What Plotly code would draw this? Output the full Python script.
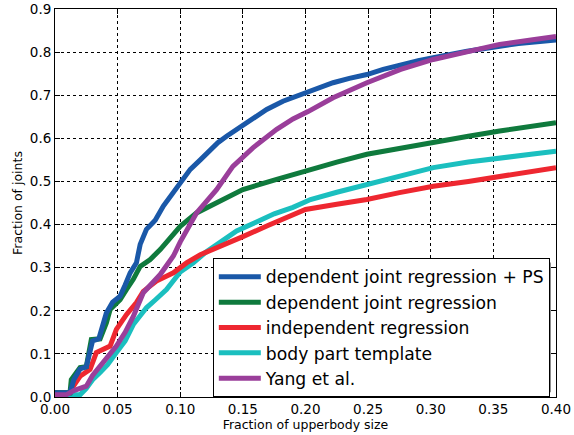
import plotly.graph_objects as go

names = ["dependent joint regression + PS", "dependent joint regression",
         "independent regression", "body part template", "Yang et al."]
colors = ["#1a58a8", "#0f7a3d", "#ee2730", "#1bbfbf", "#9a3e9a"]

blue_x = [0, 0.012, 0.015, 0.02, 0.025, 0.03, 0.035, 0.041, 0.046, 0.052, 0.056, 0.06, 0.065, 0.068, 0.073, 0.08, 0.0865, 0.093, 0.0985, 0.108, 0.116, 0.124, 0.13, 0.137, 0.145, 0.153, 0.16, 0.169, 0.182, 0.195, 0.21, 0.222, 0.235, 0.249, 0.262, 0.276, 0.29, 0.302, 0.315, 0.329, 0.342, 0.355, 0.37, 0.385, 0.4]
blue_y = [0.01, 0.01, 0.04, 0.065, 0.07, 0.13, 0.135, 0.195, 0.22, 0.234, 0.26, 0.288, 0.311, 0.354, 0.389, 0.41, 0.443, 0.47, 0.489, 0.528, 0.55, 0.574, 0.59, 0.605, 0.62, 0.636, 0.65, 0.667, 0.686, 0.7, 0.716, 0.729, 0.739, 0.748, 0.76, 0.771, 0.78, 0.787, 0.795, 0.802, 0.808, 0.814, 0.82, 0.824, 0.828]

green_x = [0, 0.012, 0.013, 0.02, 0.025, 0.029, 0.036, 0.041, 0.044, 0.052, 0.057, 0.0625, 0.068, 0.076, 0.084, 0.093, 0.1, 0.113, 0.129, 0.15, 0.177, 0.2, 0.225, 0.249, 0.275, 0.302, 0.33, 0.355, 0.38, 0.4]
green_y = [0.01, 0.01, 0.04, 0.068, 0.07, 0.133, 0.135, 0.172, 0.203, 0.226, 0.249, 0.273, 0.303, 0.319, 0.342, 0.37, 0.396, 0.427, 0.45, 0.481, 0.505, 0.525, 0.545, 0.563, 0.577, 0.59, 0.605, 0.617, 0.628, 0.636]

red_x = [0, 0.012, 0.0146, 0.02, 0.028, 0.033, 0.044, 0.049, 0.057, 0.065, 0.0705, 0.081, 0.0945, 0.105, 0.116, 0.129, 0.15, 0.17, 0.182, 0.2, 0.225, 0.249, 0.275, 0.302, 0.33, 0.355, 0.38, 0.4]
red_y = [0.01, 0.01, 0.025, 0.048, 0.064, 0.103, 0.118, 0.157, 0.191, 0.219, 0.245, 0.269, 0.288, 0.311, 0.33, 0.345, 0.372, 0.398, 0.412, 0.435, 0.447, 0.458, 0.474, 0.489, 0.5, 0.512, 0.522, 0.532]

cyan_x = [0, 0.02, 0.025, 0.03, 0.036, 0.042, 0.049, 0.056, 0.0625, 0.073, 0.08, 0.089, 0.1, 0.11, 0.12, 0.13, 0.145, 0.16, 0.175, 0.19, 0.204, 0.225, 0.249, 0.275, 0.302, 0.33, 0.355, 0.38, 0.4]
cyan_y = [0.005, 0.005, 0.02, 0.04, 0.057, 0.075, 0.103, 0.13, 0.168, 0.207, 0.225, 0.249, 0.29, 0.31, 0.335, 0.355, 0.385, 0.405, 0.425, 0.44, 0.458, 0.475, 0.493, 0.512, 0.532, 0.545, 0.555, 0.563, 0.570]

purple_x = [0, 0.009, 0.015, 0.02, 0.025, 0.03, 0.036, 0.042, 0.049, 0.056, 0.0625, 0.0705, 0.077, 0.084, 0.0945, 0.1, 0.113, 0.129, 0.142, 0.158, 0.177, 0.19, 0.202, 0.222, 0.249, 0.276, 0.302, 0.33, 0.355, 0.38, 0.4]
purple_y = [0.005, 0.005, 0.015, 0.02, 0.025, 0.05, 0.071, 0.09, 0.118, 0.15, 0.187, 0.242, 0.262, 0.284, 0.327, 0.36, 0.427, 0.481, 0.535, 0.578, 0.621, 0.645, 0.662, 0.694, 0.729, 0.76, 0.783, 0.803, 0.818, 0.828, 0.836]

x_ticks = [0.0, 0.05, 0.10, 0.15, 0.20, 0.25, 0.30, 0.35, 0.40]
x_tick_labels = ["0.00", "0.05", "0.10", "0.15", "0.20", "0.25", "0.30", "0.35", "0.40"]
y_ticks = [0.0, 0.1, 0.2, 0.3, 0.4, 0.5, 0.6, 0.7, 0.8, 0.9]
y_tick_labels = ["0.0", "0.1", "0.2", "0.3", "0.4", "0.5", "0.6", "0.7", "0.8", "0.9"]

series = [(blue_x, blue_y), (green_x, green_y), (red_x, red_y), (cyan_x, cyan_y), (purple_x, purple_y)]
draw_order = [3, 2, 1, 0, 4]

fig = go.Figure()
traces = {}
for i in range(5):
    xs, ys = series[i]
    traces[i] = go.Scatter(x=xs, y=ys, mode="lines", name=names[i],
                           line=dict(color=colors[i], width=5), legendrank=i + 1)
for i in draw_order:
    fig.add_trace(traces[i])

FONT = "DejaVu Sans"
axis_common = dict(showline=True, linecolor="black", linewidth=1, mirror="ticks",
                   ticks="inside", ticklen=5, tickcolor="black", automargin=False,
                   showgrid=True, gridcolor="black", griddash="dot", gridwidth=1,
                   zeroline=False, tickfont=dict(family=FONT, size=13.5, color="black"))
fig.update_xaxes(range=[0, 0.4], tickvals=x_ticks, ticktext=x_tick_labels,
                 title=dict(text="Fraction of upperbody size", font=dict(family=FONT, size=12.5, color="black"), standoff=2),
                 **axis_common)
fig.update_yaxes(range=[0, 0.9], tickvals=y_ticks, ticktext=y_tick_labels,
                 title=dict(text="Fraction of joints", font=dict(family=FONT, size=12.5, color="black"), standoff=4),
                 **axis_common)

# legend shadow
fig.add_shape(type="rect", xref="paper", yref="paper", x0=0.323, x1=0.990, y0=0.0124, y1=0.3466,
              fillcolor="#8c8c8c", line=dict(width=0), layer="above")

fig.update_layout(
    width=574, height=435,
    margin=dict(l=55, r=18, t=9, b=38),
    paper_bgcolor="white", plot_bgcolor="white",
    font=dict(family=FONT, color="black"),
    legend=dict(x=0.315, y=0.358, xanchor="left", yanchor="top",
                bgcolor="white", bordercolor="black", borderwidth=1,
                font=dict(family=FONT, size=17.2, color="black"),
                itemwidth=42, traceorder="normal", tracegroupgap=0),
)
fig.write_html("out.html", config={"displayModeBar": False},
               post_script="document.body.style.margin='0px';")
